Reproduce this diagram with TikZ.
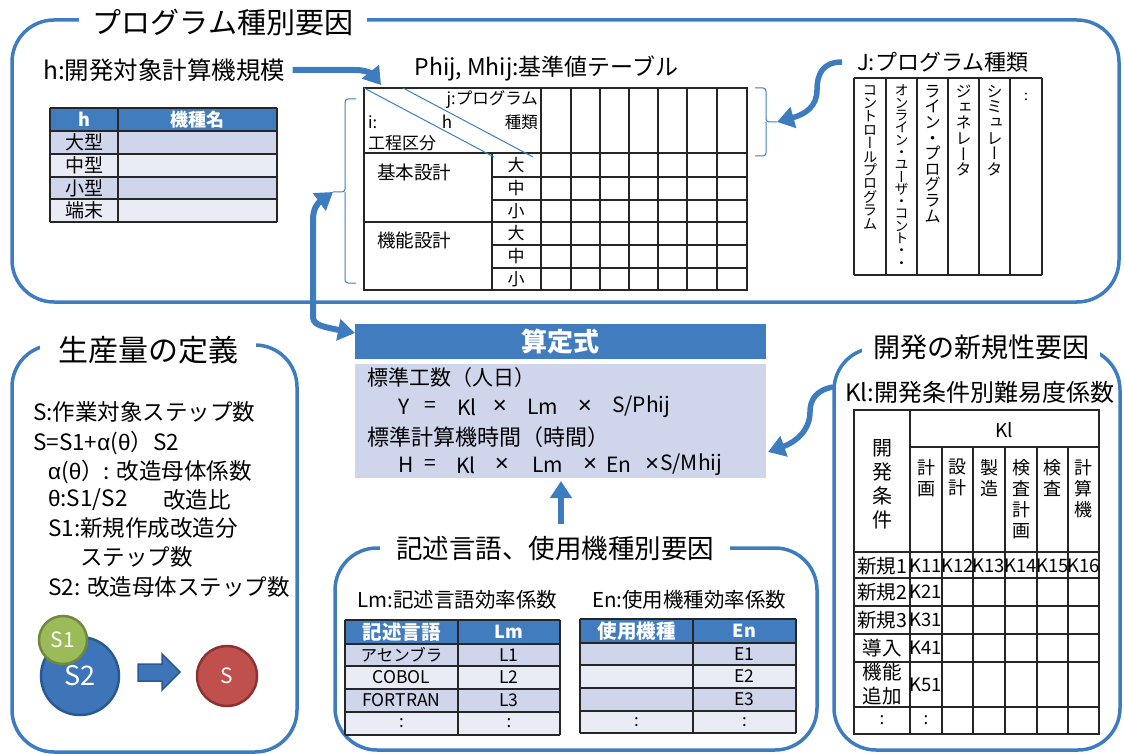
\documentclass[tikz,border=0pt]{standalone}
\usepackage{fontspec}
\setmainfont{Noto Sans CJK JP}
\newfontfamily\vfont{Noto Sans CJK JP}[RawFeature=+vert]
\newfontfamily\grk{Liberation Sans}
\usetikzlibrary{arrows.meta}
\definecolor{bblue}{RGB}{62,124,192}
\definecolor{hblue}{RGB}{65,124,191}
\definecolor{bandA}{RGB}{207,213,234}
\definecolor{bandB}{RGB}{233,235,245}
\definecolor{sTwoF}{RGB}{62,117,184}
\definecolor{sTwoL}{RGB}{40,90,145}
\definecolor{sOneF}{RGB}{155,187,89}
\definecolor{sOneL}{RGB}{113,137,63}
\definecolor{sRedF}{RGB}{192,80,77}
\definecolor{sRedL}{RGB}{140,50,48}
\newcommand{\fsl}[2]{\fontsize{#1}{#2}\selectfont\lineskiplimit=-100pt\lineskip=0pt\relax}
\newcommand{\myfs}[1]{\fsl{#1}{#1}}
\begin{document}
\begin{tikzpicture}[x=1pt,y=-1pt,
 bigframe/.style={draw=bblue,line width=3.5pt,rounded corners=42pt},
 ttl/.style={fill=white,inner ysep=1pt,inner xsep=14pt},
 lt/.style={inner sep=0pt,anchor=west},
 rt/.style={inner sep=0pt,anchor=east},
 ct/.style={inner sep=0pt,anchor=center},
 hd/.style={inner sep=0pt,anchor=center,text=white,font=\bfseries},
 gridline/.style={draw=black!85,line width=1.4pt},
 bluearr/.style={draw=bblue,line width=6pt,-{Triangle[length=17pt,width=21pt]}},
 brc/.style={draw=bblue,line width=1pt,rounded corners=3pt},
 vstack/.style={inner sep=0pt,align=center,anchor=north},
]
\useasboundingbox (0,0) rectangle (1124,754);
% ---------- frames ----------
\draw[bigframe] (12,20) rectangle (1119,302);
\draw[bigframe] (12,345) rectangle (297,752);
\draw[bigframe] (335,548) rectangle (817,750);
\draw[bigframe] (834,348) rectangle (1120,750);
\node[ttl] (t1) at (223,23) {\myfs{29}プログラム種別要因};
\node[ttl,inner xsep=18pt] (t2) at (148,350) {\myfs{30}生産量の定義};
\node[ttl,inner xsep=16pt] (t3) at (555,548) {\myfs{26.5}記述言語、使用機種別要因};
\node[ttl,inner xsep=11pt] (t4) at (981,347) {\myfs{27}開発の新規性要因};

% ---------- h table ----------
\node[lt] (htitle) at (43,70) {\myfs{24.5}h:開発対象計算機規模};
\fill[hblue] (50,108) rectangle (277,131);
\fill[bandA] (50,131) rectangle (277,154);
\fill[bandB] (50,154) rectangle (277,177);
\fill[bandA] (50,177) rectangle (277,199);
\fill[bandB] (50,199) rectangle (277,222);
\foreach \y in {108,131,154,177,199,222} \draw[gridline] (50,\y) -- (277,\y);
\foreach \x in {50,118,277} \draw[gridline] (\x,108) -- (\x,222);
\node[hd] (hh1) at (84,119.5) {\myfs{18}h};
\node[hd] (hh2) at (197.5,119.5) {\myfs{18}機種名};
\node[ct] (hr1) at (84,142.5) {\myfs{19}大型};
\node[ct] (hr2) at (84,165.5) {\myfs{19}中型};
\node[ct] (hr3) at (84,188) {\myfs{19}小型};
\node[ct] (hr4) at (84,210.5) {\myfs{19}端末};

% ---------- Phij table ----------
\node[ct] (ptitle) at (546.5,68) {\myfs{23}Phij, Mhij:基準値テーブル};
\draw[gridline] (364,88) rectangle (747,290);
\foreach \x in {541,571,600,629,658,687,717} \draw[gridline] (\x,88) -- (\x,290);
\draw[gridline] (492,153) -- (492,290);
\draw[gridline] (364,153) -- (747,153);
\draw[gridline] (364,222) -- (747,222);
\foreach \y in {177,200,245,268} \draw[gridline] (492,\y) -- (747,\y);
\draw[bblue,line width=1pt] (364,88) -- (494,157);
\draw[bblue,line width=1pt] (403,88) -- (533,157);
\node[rt] (pj1) at (538,100) {\myfs{16.5}j:プログラム};
\node[rt] (pj2) at (538,122) {\myfs{16.5}種類};
\node[lt] (pi1) at (368,122) {\myfs{16.5}i:};
\node[ct] (ph) at (447,122) {\myfs{17}h};
\node[lt] (pi2) at (368,143) {\myfs{17}工程区分};
\node[lt] (pg1) at (377,172) {\myfs{18.5}基本設計};
\node[lt] (pg2) at (377,240) {\myfs{18.5}機能設計};
\foreach \yy/\tt [count=\i] in {165/大,188.5/中,211/小,233.5/大,256.5/中,279/小}
  \node[ct] (psz\i) at (516,\yy) {\myfs{17}\tt};
% braces
\coordinate (bL) at (333,192);
\draw[brc] (356,99) -| (345,192) -- (bL);
\draw[brc] (356,283) -| (345,192);
\coordinate (bR) at (777,122);
\draw[brc] (755,88) -| (766,122) -- (bR);
\draw[brc] (755,156) -| (766,122);

% ---------- J table ----------
\node[lt] (jtitle) at (857,62) {\myfs{22}J:プログラム種類};
\draw[gridline] (854,78) -- (1042,78);
\draw[gridline] (854,275) -- (1042,275);
\foreach \x in {854,886,917,948,979,1010,1042} \draw[gridline] (\x,78) -- (\x,275);
\node[vstack,font={\vfont\fsl{14.5}{13.4}}] (jc1) at (870,85) {コ\\ン\\ト\\ロ\\ー\\ル\\プ\\ロ\\グ\\ラ\\ム};
\node[vstack,font={\vfont\fsl{14}{12.3}}] (jc2) at (901.5,85) {オ\\ン\\ラ\\イ\\ン\\・\\ユ\\ー\\ザ\\・\\コ\\ン\\ト\\・\\・};
\node[vstack,font={\vfont\fsl{16.5}{15.6}}] (jc3) at (932.5,85) {ラ\\イ\\ン\\・\\プ\\ロ\\グ\\ラ\\ム};
\node[vstack,font={\vfont\fsl{16}{15.6}}] (jc4) at (963.5,85) {ジ\\ェ\\ネ\\レ\\ー\\タ};
\node[vstack,font={\vfont\fsl{16}{15.6}}] (jc5) at (994.5,85) {シ\\ミ\\ュ\\レ\\ー\\タ};
\node[ct] (jc6) at (1026,97) {\myfs{14}:};

% ---------- calc box ----------
\fill[hblue] (355,324) rectangle (766,359);
\node[hd] (calcT) at (560.5,341.5) {\myfs{26}算定式};
\fill[bandA] (355,364) rectangle (766,478);
\node[lt] (c1) at (367,378) {\myfs{21}標準工数（人日）};
\node[lt] (c3) at (367,437) {\myfs{22}標準計算機時間（時間）};
\node[lt] (y1) at (398,407) {\myfs{21}Y};
\node[lt] (y2) at (424,407) {\myfs{21}=};
\node[lt] (y3) at (457,407) {\myfs{21}Kl};
\node[ct] (y4) at (500,407) {\myfs{24}\grk ×};
\node[lt] (y5) at (527,407) {\myfs{21}Lm};
\node[ct] (y6) at (585,407) {\myfs{24}\grk ×};
\node[lt] (y7) at (612,407) {\myfs{21}S/Phij};
\node[lt] (h1) at (398,465) {\myfs{21}H};
\node[lt] (h2) at (424,465) {\myfs{21}=};
\node[lt] (h3) at (456,465) {\myfs{21}Kl};
\node[ct] (h4) at (502,465) {\myfs{24}\grk ×};
\node[lt] (h5) at (532,465) {\myfs{21}Lm};
\node[ct] (h6) at (590,465) {\myfs{24}\grk ×};
\node[lt] (h7) at (606,465) {\myfs{21}En};
\node[ct] (h8) at (652,465) {\myfs{24}\grk ×};
\node[lt] (h9) at (660,465) {\myfs{21}S/Mhij};
\coordinate (calcL) at (355,333);
\coordinate (calcR) at (768,452);
\coordinate (calcS) at (561,481);

% ---------- production definition ----------
\node[lt] (d1) at (33,412) {\myfs{22.5}S:作業対象ステップ数};
\node[lt] (d2) at (33,443) {\myfs{22.5}S=S1+{\grk α}({\grk θ}）S2};
\node[lt] (d3) at (48,472) {\myfs{22.5}{\grk α}({\grk θ}）: 改造母体係数};
\node[lt] (d4) at (48,500) {\myfs{22.5}{\grk θ}:S1/S2};
\node[lt] (d4b) at (163,500) {\myfs{22.5}改造比};
\node[lt] (d5) at (48,528) {\myfs{22.5}S1:新規作成改造分};
\node[lt] (d6) at (80,557) {\myfs{22.5}ステップ数};
\node[lt] (d7) at (48,587) {\myfs{22.5}S2: 改造母体ステップ数};
\node[circle,draw=sTwoL,fill=sTwoF,line width=2.5pt,minimum size=78pt,inner sep=0pt,text=white] (s2) at (80,676) {\myfs{27}\raisebox{-3pt}{S2}};
\node[circle,draw=sOneL,fill=sOneF,line width=2.5pt,minimum size=48pt,inner sep=0pt,text=white] (s1) at (63,640) {\myfs{21}S1};
\node[circle,draw=sRedL,fill=sRedF,line width=2.5pt,minimum size=60pt,inner sep=0pt,text=white] (sS) at (227,676) {\myfs{21}S};
\draw[fill=sTwoF,draw=sTwoL,line width=1.5pt,line join=miter] (138,664) -- (162,664) -- (162,654) -- (180,672) -- (162,690) -- (162,681) -- (138,681) -- cycle;

% ---------- Lm / En tables ----------
\node[lt] (lmtitle) at (357,600) {\myfs{20.5}Lm:記述言語効率係数};
\node[lt] (entitle) at (592,600) {\myfs{20.5}En:使用機種効率係数};
\fill[hblue] (345,620) rectangle (560,644);
\fill[bandA] (345,644) rectangle (560,666);
\fill[bandB] (345,666) rectangle (560,689);
\fill[bandA] (345,689) rectangle (560,712);
\fill[bandB] (345,712) rectangle (560,735);
\foreach \y in {620,644,666,689,712,735} \draw[gridline] (345,\y) -- (560,\y);
\foreach \x in {345,458,560} \draw[gridline] (\x,620) -- (\x,735);
\node[hd] (lmh1) at (401.5,632) {\myfs{19.5}記述言語};
\node[hd] (lmh2) at (509,632) {\myfs{18}Lm};
\node[ct] (lm1a) at (401.5,655) {\myfs{16.5}アセンブラ};
\node[ct] (lm2a) at (401.5,677.5) {\myfs{17.5}COBOL};
\node[ct] (lm3a) at (401.5,700.5) {\myfs{17.5}FORTRAN};
\node[ct] (lm4a) at (401.5,723.5) {\myfs{17}:};
\node[ct] (lm1b) at (509,655) {\myfs{17.5}L1};
\node[ct] (lm2b) at (509,677.5) {\myfs{17.5}L2};
\node[ct] (lm3b) at (509,700.5) {\myfs{17.5}L3};
\node[ct] (lm4b) at (509,723.5) {\myfs{17}:};
\fill[hblue] (580,619) rectangle (796,643);
\fill[bandA] (580,643) rectangle (796,665);
\fill[bandB] (580,665) rectangle (796,688);
\fill[bandA] (580,688) rectangle (796,711);
\fill[bandB] (580,711) rectangle (796,733);
\foreach \y in {619,643,665,688,711,733} \draw[gridline] (580,\y) -- (796,\y);
\foreach \x in {580,693,796} \draw[gridline] (\x,619) -- (\x,733);
\node[hd] (enh1) at (636.5,631) {\myfs{19.5}使用機種};
\node[hd] (enh2) at (744.5,631) {\myfs{18}En};
\node[ct] (en1) at (744.5,654) {\myfs{17.5}E1};
\node[ct] (en2) at (744.5,676.5) {\myfs{17.5}E2};
\node[ct] (en3) at (744.5,699.5) {\myfs{17.5}E3};
\node[ct] (en4) at (744.5,722) {\myfs{17}:};
\node[ct] (en4a) at (636.5,722) {\myfs{17}:};

% ---------- Kl table ----------
\node[lt] (kltitle) at (845,392) {\myfs{24}Kl:開発条件別難易度係数};
\draw[gridline] (854,410) rectangle (1099,734);
\draw[gridline] (910,410) -- (910,734);
\foreach \x in {942,973,1005,1037,1068} \draw[gridline] (\x,447) -- (\x,734);
\draw[gridline] (910,447) -- (1099,447);
\foreach \y in {552,578,606,634,662,707} \draw[gridline] (854,\y) -- (1099,\y);
\node[ct] (klh) at (1004,430) {\myfs{19}Kl};
\node[vstack,font={\fsl{20}{24}}] (klc) at (882,439) {開\\発\\条\\件};
\node[vstack,font={\fsl{18}{21}}] (kh1) at (926,459) {計\\画};
\node[vstack,font={\fsl{18}{21}}] (kh2) at (957.5,459) {設\\計};
\node[vstack,font={\fsl{18}{21}}] (kh3) at (989,459) {製\\造};
\node[vstack,font={\fsl{18}{21}}] (kh4) at (1021,459) {検\\査\\計\\画};
\node[vstack,font={\fsl{18}{21}}] (kh5) at (1052.5,459) {検\\査};
\node[vstack,font={\fsl{18}{21}}] (kh6) at (1083.5,459) {計\\算\\機};
\node[ct] (kr1) at (882,566) {\myfs{19.5}新規1};
\node[ct] (kr2) at (882,592) {\myfs{19.5}新規2};
\node[ct] (kr3) at (882,620) {\myfs{19.5}新規3};
\node[ct] (kr4) at (882,648) {\myfs{19.5}導入};
\node[ct,align=center,font={\fsl{19.5}{24}}] (kr5) at (882,684.5) {機能\\追加};
\node[ct] (kr6) at (882,720.5) {\myfs{17}:};
\foreach \xx/\tt [count=\i] in {926/K11,957.5/K12,989/K13,1021/K14,1052.5/K15,1083.5/K16}
  \node[ct] (kk\i) at (\xx,566) {\myfs{18.5}\tt};
\node[ct] (kk21) at (926,592) {\myfs{18.5}K21};
\node[ct] (kk31) at (926,620) {\myfs{18.5}K31};
\node[ct] (kk41) at (926,648) {\myfs{18.5}K41};
\node[ct] (kk51) at (926,684.5) {\myfs{18.5}K51};
\node[ct] (kk61) at (926,720.5) {\myfs{17}:};

% ---------- connectors ----------
\coordinate (hA) at (381,85);
\draw[bluearr] ([xshift=7pt]htitle.east) -- (355,70) .. controls (368,70) and (373,75) .. (hA);
\draw[bluearr,line width=5.5pt] ([xshift=-15pt]jtitle.west) .. controls (822,62) and (817,75) .. (817,90) .. controls (817,106) and (806,114) .. (bR);
\coordinate (krStart) at (833,387);
\draw[bluearr,line width=5.5pt] (krStart) .. controls (816,390) and (810,400) .. (810,412) .. controls (810,430) and (796,442) .. (calcR);
\coordinate (bmStart) at (561,524);
\draw[bluearr] (bmStart) -- (calcS);
\draw[draw=bblue,line width=6pt,{Triangle[length=17pt,width=21pt]}-{Triangle[length=17pt,width=21pt]}] (bL) .. controls (318,203) and (313,208) .. (313,220) -- (313,316) .. controls (313,324) and (318,326) .. (calcL);
\end{tikzpicture}
\end{document}
